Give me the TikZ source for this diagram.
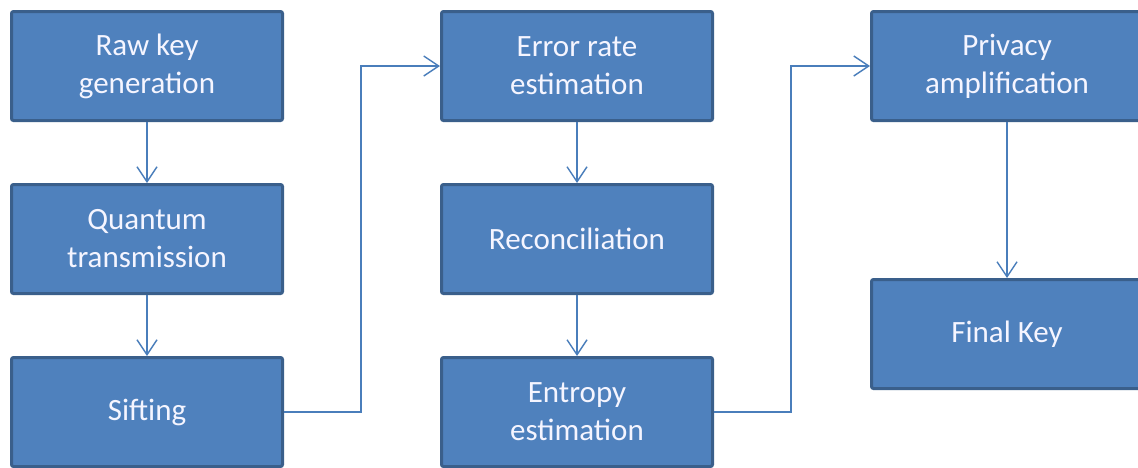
\documentclass[tikz,border=0pt]{standalone}
\usepackage{fontspec}
\setmainfont{Carlito}
\usetikzlibrary{
  arrows.meta,  % for arrow tips
  positioning   % for below=of, right=of
}
\definecolor{boxfill}{HTML}{4F81BD}
\definecolor{boxline}{HTML}{3A5F8B}
\definecolor{flowline}{HTML}{4A7EBB}
\tikzstyle{qkdstep} = [rectangle, draw=boxline, fill=boxfill, line width=3pt, rounded corners=2pt,
  minimum width=271pt, minimum height=109pt, text=white!96!blue, align=center,
  font=\fontsize{31}{38}\selectfont]
\tikzstyle{flow} = [draw=flowline, line width=1.4pt, -{Straight Barb[length=15pt,width=20pt]}]

\begin{document}
\begin{tikzpicture}[x=1pt,y=-1pt]
\useasboundingbox (0,0) rectangle (1138,467);
  % first column: key generation and transmission
\node[qkdstep](rawkey) at (147,66) {Raw key\\generation};
\node[qkdstep](quantum) [below=61pt of rawkey] {Quantum\\transmission};
\node[qkdstep](sifting) [below=61pt of quantum] {Sifting};
  % second column: post-processing
\node[qkdstep](errorrate) [right=156pt of rawkey] {Error rate\\estimation};
\node[qkdstep](reconcile) [below=61pt of errorrate] {Reconciliation};
\node[qkdstep](entropy) [below=61pt of reconcile] {Entropy\\estimation};
  % third column
\node[qkdstep](privacy) [right=156pt of errorrate] {Privacy\\amplification};
\node[qkdstep](finalkey) [below=156pt of privacy] {Final Key};

\draw[flow] (rawkey) -- (quantum);
\draw[flow] (quantum) -- (sifting);
\draw[flow] (sifting.east) -- ++(77,0) |- (errorrate.west);
\draw[flow] (errorrate) -- (reconcile);
\draw[flow] (reconcile) -- (entropy);
\draw[flow] (entropy.east) -- ++(77,0) |- (privacy.west);
\draw[flow] (privacy) -- (finalkey);
\end{tikzpicture}
\end{document}
